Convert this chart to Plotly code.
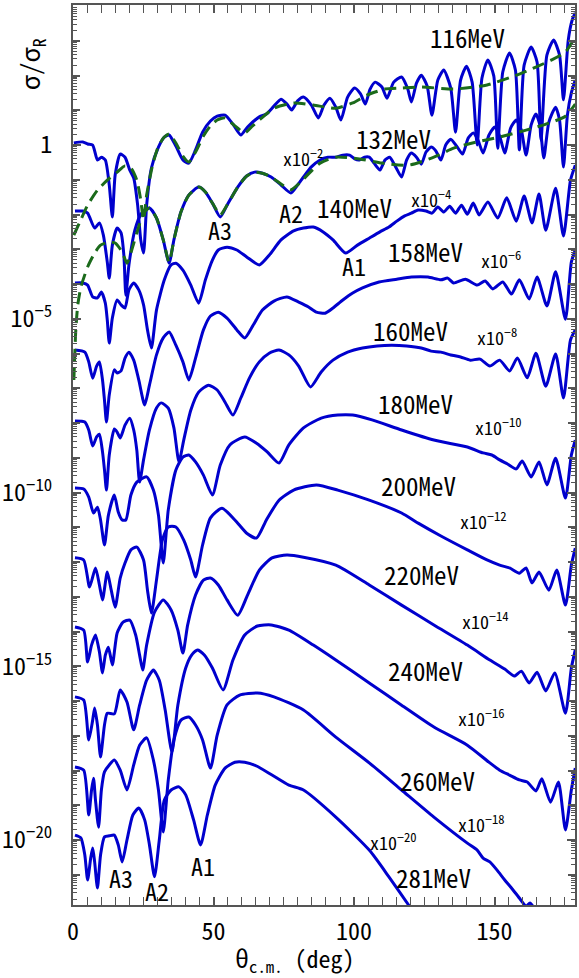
import numpy as np
import plotly.graph_objects as go

# ---------------- data (theta in deg, log10 of sigma/sigma_R before scaling) -------------
energy_labels = ["116MeV", "132MeV", "140MeV", "158MeV", "160MeV", "180MeV",
                 "200MeV", "220MeV", "240MeV", "260MeV", "281MeV"]
scale_exponents = [0, -2, -4, -6, -8, -10, -12, -14, -16, -18, -20]

theta_116 = [0.3,3.5,5.2,7.0,8.7,10.1,11.5,12.9,14.0,15.0,16.8,18.5,20.2,21.6,23.0,24.1,25.1,26.2,27.9,30.4,32.5,34.2,36.6,39.1,41.2,43.6,46.1,48.9,51.3,54.1,56.9,59.7,62.1,66.3,68.8,71.5,74.0,76.1,77.8,79.9,82.0,84.8,87.3,89.3,91.4,93.5,95.3,97.7,100.2,102.3,104.0,105.7,107.5,109.9,111.7,114.1,116.9,119.0,120.4,122.2,123.9,126.0,127.7,129.8,131.9,134.4,136.1,137.9,140.0,142.0,143.8,145.5,147.6,149.7,151.1,152.9,155.3,157.4,158.8,160.5,163.0,165.1,166.5,168.6,171.0,173.1,174.5,176.2,177.6,178.7]
log_116 = [0.06,0.09,0.03,0.00,-0.43,-0.35,-0.43,-1.15,-2.07,-0.86,-0.26,-0.35,-0.72,-0.95,-1.73,-2.73,-3.11,-1.73,-0.66,-0.06,0.23,0.29,-0.03,-0.43,-0.52,-0.14,0.37,0.69,0.83,0.86,0.60,0.29,0.52,0.81,0.89,1.12,1.32,1.18,1.01,1.27,1.38,1.15,0.78,1.15,1.35,1.09,0.72,1.38,1.64,1.47,1.18,1.61,1.81,1.67,1.35,1.81,1.96,1.64,1.24,1.78,2.01,1.70,0.86,1.87,2.16,1.64,0.37,1.87,2.27,1.81,0.00,1.93,2.45,1.99,-0.09,2.10,2.65,2.16,-0.14,2.30,2.82,2.39,0.14,2.59,3.02,2.59,1.30,3.02,3.60,3.80]

theta_116_fit = [0.3,2.4,5.2,8.7,12.2,15.7,18.5,20.6,22.7,24.1,25.1,26.2,28.3,30.4,32.5,34.2,36.6,39.1,41.2,43.6,46.4,48.9,51.3,54.1,57.6,61.1,63.9,66.3,71.5,78.5,85.5,93.5,99.5,104.7,111.0,116.9,123.9,135.4,147.3,158.8,170.3,175.2,178.7]
log_116_fit = [-2.59,-2.22,-1.73,-1.30,-1.01,-0.78,-0.60,-0.66,-1.01,-1.58,-2.16,-1.44,-0.58,-0.03,0.23,0.32,0.06,-0.32,-0.49,-0.20,0.26,0.55,0.72,0.78,0.55,0.35,0.55,0.72,1.06,1.21,1.15,1.06,1.21,1.44,1.61,1.64,1.67,1.61,1.73,2.04,2.45,2.68,3.11]

theta_132 = [0.7,3.5,5.2,7.7,9.4,10.8,12.2,12.9,14.0,15.7,17.1,18.1,18.8,19.9,22.0,24.4,27.2,29.7,32.1,34.2,35.9,38.4,41.2,44.7,47.1,49.6,52.4,54.8,58.6,61.8,64.6,67.4,70.5,74.0,77.5,79.9,82.0,84.8,87.9,90.7,93.5,96.0,98.4,100.2,101.9,103.7,105.4,107.1,109.2,111.0,112.7,114.8,116.9,118.7,120.4,122.2,123.9,125.6,127.4,129.1,130.9,132.6,134.4,136.5,138.6,140.6,142.4,144.1,145.9,148.0,150.1,151.8,153.6,155.7,157.7,159.5,161.2,163.0,164.7,166.1,167.5,169.3,171.7,173.1,174.5,175.9,177.3,178.7]
log_132 = [0.10,0.10,0.04,-0.39,-0.24,-0.59,-1.37,-1.83,-0.88,-0.39,-0.53,-1.17,-2.32,-1.45,-0.45,0.04,0.19,-0.10,-0.73,-1.40,-0.73,0.07,0.56,0.79,0.65,0.33,-0.07,0.27,0.79,1.11,1.22,1.19,1.08,0.85,0.62,0.85,1.08,1.37,1.57,1.65,1.65,1.71,1.71,1.60,1.57,1.65,1.65,1.48,1.28,1.57,1.65,1.37,1.08,1.57,1.77,1.65,1.45,1.80,1.94,1.83,1.57,2.00,2.17,1.97,1.74,2.20,2.35,2.14,1.77,2.29,2.52,2.26,1.77,2.49,2.72,2.43,1.71,2.58,2.89,2.58,1.63,2.66,3.09,2.72,1.37,2.86,3.50,3.87]

theta_132_fit = [0.3,1.0,1.7,2.8,5.2,7.7,9.8,12.9,15.0,17.5,19.2,20.9,22.7,25.1,27.2,29.7,32.1,34.2,35.9,38.4,41.2,44.7,47.1,49.6,52.4,54.8,58.6,61.8,64.6,67.4,70.5,74.0,77.5,80.3,82.0,87.9,93.5,101.9,109.9,119.4,128.4,135.4,143.8,151.8,161.2,169.3,175.2,178.7]
log_132_fit = [-4.76,-3.32,-2.60,-2.09,-1.51,-1.11,-0.88,-0.79,-0.82,-1.08,-1.40,-1.02,-0.53,0.04,0.19,-0.10,-0.73,-1.37,-0.73,0.07,0.56,0.79,0.65,0.33,-0.01,0.27,0.79,1.11,1.22,1.19,1.08,0.88,0.71,0.88,1.02,1.48,1.65,1.60,1.48,1.42,1.65,1.91,2.09,2.23,2.43,2.63,2.83,3.18]

theta_140 = [0.7,3.5,5.2,7.0,8.7,10.1,11.5,12.2,12.9,14.0,15.7,17.1,18.5,19.9,21.6,23.4,25.1,26.5,27.9,29.7,32.5,34.9,36.6,39.1,41.9,44.7,47.1,49.6,51.7,54.8,58.3,61.8,66.3,69.8,74.0,78.5,82.0,85.5,89.0,92.5,97.0,101.2,105.4,109.2,112.4,115.2,118.0,120.4,122.8,125.6,127.7,129.8,131.9,134.0,136.1,138.2,140.3,142.4,144.5,147.6,151.1,154.3,157.7,160.5,163.3,165.8,168.2,171.7,174.5,177.0,178.7]
log_140 = [0.03,0.03,-0.03,-0.37,-0.40,-0.23,-0.55,-1.04,-1.70,-0.98,-0.46,-0.60,-0.69,-0.17,0.03,-0.17,-0.60,-1.32,-1.84,-0.75,0.12,0.55,0.60,0.40,-0.03,-0.55,0.12,0.69,0.98,1.06,0.98,0.78,0.55,0.83,1.27,1.53,1.61,1.64,1.50,1.27,0.89,1.12,1.32,1.50,1.64,1.81,1.96,2.04,2.13,2.10,2.04,2.22,2.07,2.24,2.04,2.27,2.01,2.33,1.99,2.36,1.90,2.48,1.81,2.53,1.76,2.59,1.55,2.76,1.38,2.99,3.42]

theta_158 = [0.7,4.2,5.6,7.0,8.4,9.4,10.5,11.2,11.9,12.9,14.7,15.7,17.1,18.5,19.9,21.6,23.4,25.5,27.2,29.7,32.1,34.2,36.6,39.1,41.2,43.6,46.4,48.9,51.7,54.8,58.3,61.1,63.9,67.4,71.5,76.1,80.3,83.8,86.6,89.7,92.5,96.0,99.5,103.0,108.9,115.2,120.4,126.3,130.9,133.3,135.4,139.6,143.8,146.6,149.4,152.9,156.0,158.8,162.3,165.1,168.6,171.7,175.2,177.3,178.7]
log_158 = [0.10,0.04,-0.24,-0.71,-0.36,-0.24,-0.76,-1.34,-1.97,-1.19,-0.47,-0.56,-0.50,-0.13,0.04,-0.19,-0.76,-1.48,-0.91,-0.04,0.45,0.62,0.24,-0.24,-0.76,-0.13,0.68,1.08,1.19,1.02,0.68,0.45,0.79,1.25,1.51,1.63,1.48,1.34,1.19,1.16,1.31,1.54,1.74,1.89,2.06,2.14,2.20,2.20,2.12,2.17,2.03,2.14,1.97,2.09,1.86,2.06,1.71,2.12,1.57,2.20,1.37,2.35,0.99,2.63,2.98]

theta_160 = [0.7,4.2,5.6,7.0,8.4,9.4,10.5,11.2,11.9,12.9,14.7,15.7,16.8,18.5,20.2,21.6,22.7,23.7,25.1,27.2,29.7,31.4,33.9,35.9,37.7,39.4,41.9,44.7,48.2,51.3,54.1,56.9,59.7,62.8,66.3,69.8,73.3,76.8,80.3,84.5,88.3,92.5,97.7,103.0,108.2,113.4,118.7,123.9,127.4,130.9,134.4,137.9,141.3,144.8,148.3,151.8,155.3,158.1,161.6,164.7,168.2,171.7,174.5,177.0,178.7]
log_160 = [0.06,0.03,-0.20,-0.66,-0.40,-0.32,-0.83,-1.35,-1.93,-0.92,-0.17,-0.26,-0.43,-0.06,0.14,-0.20,-0.78,-1.70,-1.06,-0.20,0.43,0.58,0.43,-0.14,-1.12,-0.49,0.37,0.89,1.09,0.95,0.60,0.23,0.72,1.30,1.76,2.01,2.10,1.96,1.64,1.04,1.47,1.81,2.04,2.16,2.22,2.24,2.22,2.16,2.07,2.04,1.96,1.90,1.81,1.84,1.64,1.81,1.50,1.87,1.30,2.01,1.06,1.99,0.72,2.39,2.68]

theta_180 = [0.7,3.8,5.6,7.3,8.7,9.8,11.2,12.6,14.7,16.1,17.5,18.8,20.6,22.7,26.2,28.6,30.4,32.1,33.9,36.6,39.1,41.2,43.6,46.4,49.6,52.4,55.8,61.1,65.3,69.1,73.3,76.8,82.0,88.3,94.2,99.5,106.4,116.9,128.4,140.3,145.9,149.0,151.8,154.6,157.7,159.8,163.0,165.8,168.6,171.7,175.2,177.3,178.7]
log_180 = [0.13,0.10,-0.13,-0.59,-0.42,-0.79,-1.51,-0.65,-0.07,-0.56,-0.79,-0.79,-0.07,0.30,0.45,0.07,-0.65,-2.03,-0.50,0.65,1.02,1.08,0.88,0.50,-0.07,0.79,1.37,1.60,1.42,1.17,0.85,1.37,1.86,2.14,2.23,2.23,2.09,1.80,1.51,1.31,1.14,1.08,0.94,0.82,0.68,0.91,0.45,0.88,0.22,0.99,-0.16,1.08,1.51]

theta_200 = [0.7,3.8,5.9,8.0,9.4,10.5,12.2,13.6,15.0,16.8,18.5,20.6,22.7,25.1,26.5,27.9,29.7,31.8,33.9,36.6,39.4,41.9,43.6,46.1,48.9,53.0,57.6,61.8,65.3,68.8,73.3,78.5,86.6,94.2,105.4,116.9,122.8,130.9,140.3,147.3,151.8,155.3,158.8,161.2,163.3,165.8,169.3,172.1,175.2,177.3,178.7]
log_200 = [0.12,0.06,-0.72,-0.17,-0.66,-1.09,-0.29,-0.81,-1.30,-0.46,-0.03,0.35,0.43,0.06,-0.81,-1.47,-0.52,0.63,1.01,1.01,0.63,0.06,-0.43,0.49,1.27,1.55,1.21,0.83,0.69,1.21,1.78,2.07,2.22,2.07,1.78,1.41,1.12,0.75,0.35,0.06,-0.09,-0.17,-0.32,-0.17,-0.60,-0.29,-0.81,-0.23,-1.24,-0.09,0.40]

theta_220 = [0.7,3.8,5.2,6.6,8.0,9.4,10.5,11.5,12.6,14.0,15.7,17.8,20.2,22.3,23.7,24.8,26.2,29.0,32.1,34.9,37.3,39.1,40.8,43.6,46.4,48.9,51.7,54.8,58.6,62.1,66.3,70.8,76.1,82.0,93.5,105.4,116.9,128.4,140.3,148.3,153.6,157.0,159.5,162.3,165.1,168.2,171.4,175.2,177.3,178.7]
log_220 = [0.13,0.04,-0.88,-0.39,-0.10,-0.59,-1.19,-0.68,-0.45,-0.96,-0.04,0.27,0.33,-0.10,-0.68,-1.11,-0.39,0.56,0.91,0.62,0.04,-0.62,0.19,1.05,1.48,1.54,1.34,0.91,0.47,1.05,1.77,2.12,2.20,2.14,1.91,1.34,0.76,0.19,-0.39,-0.82,-1.08,-1.28,-1.14,-1.48,-1.17,-1.71,-1.19,-2.35,-1.05,-0.53]

theta_240 = [0.7,3.8,5.6,7.0,7.7,8.7,9.8,11.2,12.2,14.7,16.8,19.2,21.6,23.7,26.2,28.6,30.7,32.8,35.2,37.3,40.1,42.2,44.3,46.8,49.6,53.4,56.9,61.1,65.6,70.5,76.8,85.5,93.5,105.4,116.9,128.4,140.3,148.3,151.8,155.3,158.8,161.6,164.7,166.8,169.9,172.7,175.2,177.3,178.7]
log_240 = [0.12,0.03,-1.12,-0.55,-0.20,-0.69,-1.61,-0.69,-0.35,-0.37,0.32,-0.03,-0.83,-0.12,0.60,0.89,0.60,-0.26,-1.47,-0.12,0.95,1.32,1.47,1.32,0.95,0.32,1.18,1.90,2.16,2.19,2.04,1.61,1.18,0.52,-0.12,-0.75,-1.27,-1.78,-1.99,-2.13,-2.27,-2.33,-2.59,-2.24,-2.91,-2.33,-3.71,-2.56,-1.93]

theta_260 = [0.7,3.8,5.6,6.6,7.3,8.0,9.1,10.1,11.2,12.9,14.7,16.8,19.2,21.6,23.7,26.2,28.6,30.4,32.1,33.9,35.9,38.4,41.2,43.6,46.1,48.9,51.3,54.8,59.3,65.6,71.5,82.0,93.5,105.4,116.9,128.4,140.3,143.8,145.9,148.3,150.8,153.6,156.0,158.8,161.2,162.6,164.4,167.5]
log_260 = [0.10,0.01,-1.28,-0.56,-0.22,-0.85,-1.63,-0.56,-0.04,0.16,0.30,0.01,-0.56,0.16,0.73,0.94,0.30,-0.56,-1.77,-0.27,0.88,1.45,1.54,1.31,0.88,0.07,1.02,1.89,2.17,2.23,2.12,1.74,0.96,0.22,-0.56,-1.34,-2.09,-2.29,-2.52,-2.63,-2.86,-3.15,-3.38,-3.67,-3.90,-3.81,-4.01,-4.59]

theta_281 = [0.7,2.8,4.2,5.2,6.3,7.0,7.7,8.7,9.8,11.2,12.9,14.7,16.1,17.5,19.2,21.3,23.4,25.5,27.2,29.0,30.7,32.5,34.9,37.7,40.1,42.9,45.4,47.8,50.6,54.1,57.6,61.1,65.3,70.8,76.8,82.0,93.5,105.4,112.4,119.4,125.6]
log_281 = [0.14,0.06,-0.43,-1.15,-0.52,-0.23,-0.63,-1.38,-0.43,0.09,0.12,0.14,-0.14,-0.63,0.00,0.72,0.92,0.58,-0.14,-1.06,0.00,1.15,1.44,1.53,1.30,0.58,-0.14,0.72,1.58,2.07,2.24,2.24,2.13,1.87,1.58,1.44,0.66,-0.29,-1.06,-1.87,-2.59]

# label placements (theta, log10 of displayed value)
energy_label_pos = [(140.3, 3.11), (114.1, 0.20), (100.1, -1.78), (125.3, -3.05),
                    (120.0, -5.32), (121.8, -7.42), (122.8, -9.78), (123.9, -12.35),
                    (125.3, -15.11), (129.8, -18.27), (128.1, -21.06)]
scale_label_pos = [None, (82.0, -0.35), (127.4, -1.53), (152.1, -3.28), (150.7, -5.50),
                   (151.4, -8.09), (146.2, -10.79), (146.9, -13.67), (145.5, -16.46),
                   (145.5, -19.51), (114.1, -20.03)]
a_labels = ["A3", "A2", "A1", "A3", "A2", "A1"]
a_label_pos = [(52.3, -2.42), (77.5, -1.93), (100.1, -3.48),
               (17.1, -21.09), (30.0, -21.44), (46.1, -20.72)]

# ---------------- figure ----------------
FONT = "Noto Sans Mono CJK JP, Noto Sans CJK JP, Liberation Sans Narrow, sans-serif"
BLUE = "#0000cd"
GREEN = "#1b6a1b"
AX = "#555555"

curves = [(theta_116, log_116), (theta_132, log_132), (theta_140, log_140),
          (theta_158, log_158), (theta_160, log_160), (theta_180, log_180),
          (theta_200, log_200), (theta_220, log_220), (theta_240, log_240),
          (theta_260, log_260), (theta_281, log_281)]
fits = [(theta_116_fit, log_116_fit, 0), (theta_132_fit, log_132_fit, -2)]

fig = go.Figure()
for (th, lg), ex, name in zip(curves, scale_exponents, energy_labels):
    y = 10.0 ** (np.array(lg) + ex)
    fig.add_trace(go.Scatter(x=th, y=y, mode="lines", name=name,
                             line=dict(color=BLUE, width=3, shape="spline", smoothing=0.6),
                             showlegend=False, hoverinfo="skip"))
for th, lg, ex in fits:
    y = 10.0 ** (np.array(lg) + ex)
    fig.add_trace(go.Scatter(x=th, y=y, mode="lines",
                             line=dict(color=GREEN, width=3, dash="12px,7px",
                                       shape="spline", smoothing=0.6),
                             showlegend=False, hoverinfo="skip"))
# invisible trace that carries the unlabeled decade-tick axis
fig.add_trace(go.Scatter(x=[None], y=[None], yaxis="y2", mode="lines",
                         showlegend=False, hoverinfo="skip"))

ann = []
for txt, (x, y) in zip(energy_labels, energy_label_pos):
    ann.append(dict(x=x, y=y, text=txt, showarrow=False, font=dict(family=FONT, size=25, color="black")))
for ex, pos in zip(scale_exponents, scale_label_pos):
    if pos is None:
        continue
    ann.append(dict(x=pos[0], y=pos[1], text="x10<sup>\u2212%d</sup>" % (-ex), showarrow=False,
                    font=dict(family=FONT, size=18, color="black")))
for txt, (x, y) in zip(a_labels, a_label_pos):
    ann.append(dict(x=x, y=y, text=txt, showarrow=False, font=dict(family=FONT, size=24, color="black")))
ann.append(dict(xref="paper", yref="paper", x=0.443, y=-0.06, xanchor="center", yanchor="middle",
                text="\u03b8<sub>c.m.</sub> (deg)",
                showarrow=False, font=dict(family=FONT, size=24, color="black")))
ann.append(dict(xref="paper", yref="paper", x=-0.084, y=0.934, xanchor="center", yanchor="middle",
                text="\u03c3/\u03c3<sub>R</sub>",
                textangle=-90, showarrow=False, font=dict(family=FONT, size=25, color="black")))

label_decades = [-20, -15, -10, -5, 0]
ytickvals = [10.0 ** n for n in label_decades]
yticktext = ["1" if n == 0 else "10<sup>\u2212%d</sup>" % (-n) for n in label_decades]
ydecades = [10.0 ** n for n in range(-21, 4)]
yminor = [m * 10.0 ** n for n in range(-22, 4) for m in range(2, 10)]

fig.update_layout(
    width=579, height=978,
    margin=dict(l=65, r=2, t=5, b=73),
    paper_bgcolor="white", plot_bgcolor="white",
    annotations=ann,
    xaxis=dict(range=[0, 178.6], tickvals=[0, 50, 100, 150], ticks="inside", ticklen=8,
               tickwidth=1.5, tickcolor=AX, showline=True, linecolor=AX, linewidth=2,
               mirror="allticks", showgrid=False, zeroline=False, ticklabelstandoff=4,
               tickfont=dict(family=FONT, size=24, color="black"),
               minor=dict(dtick=5, tick0=0, ticks="inside", ticklen=5, tickcolor=AX, tickwidth=1)),
    yaxis=dict(type="log", range=[-21.87, 4.03], tickmode="array", tickvals=ytickvals,
               ticktext=yticktext, ticks="inside", ticklen=8, tickwidth=1.5, tickcolor=AX,
               showline=True, linecolor=AX, linewidth=2, mirror="allticks", showgrid=False,
               zeroline=False, ticklabelstandoff=14,
               tickfont=dict(family=FONT, size=24, color="black"),
               minor=dict(tickmode="array", tickvals=yminor, ticks="inside", ticklen=4,
                          tickcolor=AX, tickwidth=1)),
    yaxis2=dict(type="log", range=[-21.87, 4.03], overlaying="y", side="left",
                tickmode="array", tickvals=ydecades, ticks="inside", ticklen=7,
                tickwidth=1.5, tickcolor=AX, showticklabels=False, showline=False,
                mirror="allticks", showgrid=False, zeroline=False),
)

fig.write_html("out.html")
